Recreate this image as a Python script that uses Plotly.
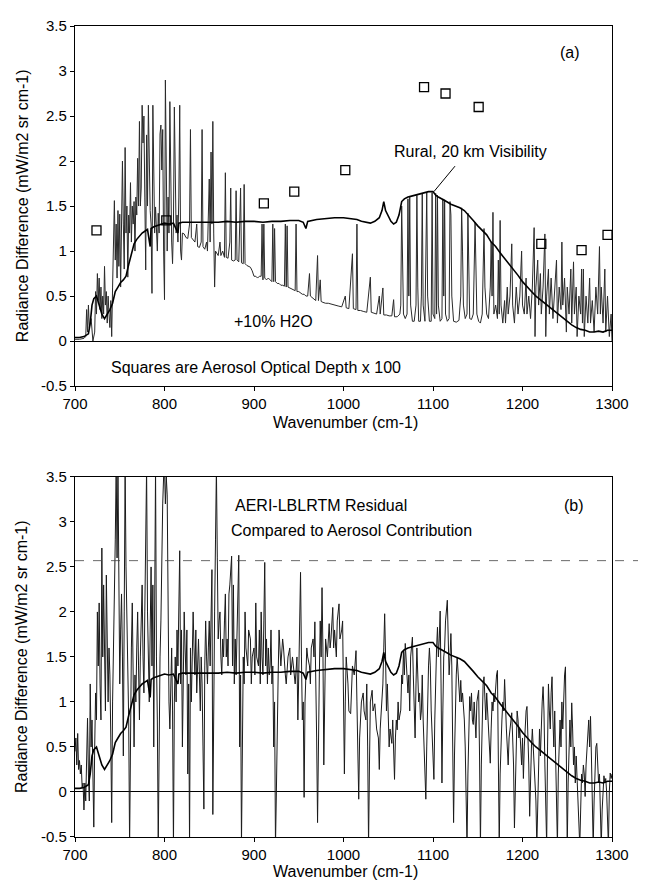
import plotly.graph_objects as go

# ---------------- data ----------------
# Aerosol contribution, Rural 20 km visibility (wavenumber, radiance)
AEROSOL = [
    (700,0.04),(705,0.04),(710,0.05),(715,0.08),(717,0.2),(719,0.4),(721,0.47),(724,0.5),
    (727,0.4),(730,0.3),(733,0.25),(736,0.3),(739,0.35),(742,0.42),(745,0.55),(748,0.6),
    (751,0.65),(754,0.68),(757,0.72),(760,0.85),(763,0.98),(766,1.08),(769,1.13),(772,1.17),
    (775,1.2),(778,1.22),(781,1.24),(784,1.05),(785,1.25),(788,1.27),(791,1.28),(794,1.29),
    (797,1.3),(800,1.31),(805,1.3),(810,1.31),(815,1.2),(816,1.31),(820,1.32),(830,1.32),
    (840,1.32),(850,1.32),(860,1.32),(870,1.33),(880,1.32),(890,1.33),(900,1.33),(910,1.32),
    (920,1.33),(930,1.33),(940,1.34),(950,1.34),(955,1.32),(958,1.25),(960,1.33),(970,1.35),
    (980,1.36),(990,1.37),(1000,1.37),(1010,1.36),(1015,1.35),(1020,1.33),(1025,1.32),
    (1030,1.31),(1035,1.33),(1040,1.37),(1043,1.45),(1045,1.55),(1047,1.45),(1050,1.38),
    (1053,1.33),(1056,1.3),(1059,1.32),(1062,1.4),(1065,1.55),(1068,1.58),(1072,1.6),
    (1076,1.61),(1080,1.62),(1085,1.63),(1090,1.65),(1095,1.66),(1100,1.66),(1103,1.62),
    (1106,1.6),(1110,1.58),(1115,1.55),(1120,1.52),(1125,1.5),(1130,1.48),(1135,1.45),
    (1140,1.4),(1145,1.34),(1150,1.28),(1155,1.23),(1160,1.18),(1165,1.1),(1170,1.05),
    (1175,0.98),(1180,0.92),(1185,0.86),(1190,0.8),(1195,0.73),(1200,0.66),(1205,0.6),
    (1210,0.55),(1215,0.5),(1220,0.46),(1225,0.42),(1230,0.38),(1235,0.33),(1240,0.29),
    (1245,0.25),(1250,0.21),(1255,0.18),(1260,0.15),(1265,0.13),(1270,0.12),(1275,0.1),
    (1280,0.1),(1285,0.11),(1290,0.1),(1295,0.12),(1300,0.12),
]

# +10% H2O radiance difference (panel a)
H2O = [
    (700,0.02),(705,0.02),(710,0.03),(712,0.05),(713,0.35),(714,0.1),(715,0.4),(716,0.15),
    (718,0.25),(719,0.05),(720,0.0),(722,0.1),(723,0.55),(724,0.3),(725,0.75),(726,0.45),
    (727,0.7),(728,0.35),(729,0.6),(730,0.25),(731,0.5),(732,0.3),(733,0.83),(734,0.4),
    (735,0.55),(736,0.2),(737,0.5),(738,0.3),(739,0.15),(740,0.45),(741,0.05),(742,0.6),
    (743,1.0),(744,1.56),(745,0.9),(746,1.3),(747,0.7),(748,1.45),(749,0.83),(750,1.41),
    (751,0.6),(752,1.1),(753,2.0),(754,1.3),(755,0.8),(756,2.15),(757,1.2),(758,1.5),
    (759,0.71),(760,1.4),(761,1.2),(762,1.76),(763,1.1),(764,1.5),(765,1.3),(766,1.55),
    (767,1.0),(768,1.6),(769,1.4),(770,2.03),(771,1.5),(772,2.44),(773,1.5),(774,1.7),
    (775,2.62),(776,2.2),(777,2.5),(778,1.6),(779,0.79),(780,2.29),(781,1.5),(782,2.62),
    (783,1.7),(784,1.45),(785,1.3),(786,0.53),(787,2.62),(788,1.6),(789,1.2),(790,1.49),
    (791,1.3),(792,1.0),(793,1.42),(794,1.2),(795,2.3),(796,2.4),(797,1.9),(798,2.35),
    (799,1.0),(800,0.46),(801,2.9),(802,1.5),(803,1.0),(804,1.6),(805,1.2),(806,2.66),
    (807,1.4),(808,1.1),(809,0.86),(810,1.3),(811,2.6),(812,1.5),(813,1.2),(814,1.4),
    (815,1.1),(816,1.6),(817,2.62),(818,1.0),(819,0.9),(820,1.2),(822,1.19),(824,1.15),
    (826,1.14),(828,1.3),(829,2.35),(830,1.15),(832,1.12),(834,1.1),(836,1.3),(837,1.05),
    (839,1.04),(841,1.1),(842,2.35),(843,1.05),(845,1.02),(847,1.1),(848,1.0),(850,1.8),
    (851,1.1),(852,2.1),(853,1.3),(854,2.44),(855,1.2),(856,0.6),(857,1.0),(858,0.98),
    (860,0.95),(862,1.1),(863,0.95),(865,1.0),(867,0.93),(868,1.87),(869,0.93),(871,0.92),
    (873,1.1),(874,1.7),(875,0.9),(877,0.89),(879,0.9),(880,1.67),(881,0.9),(883,0.88),
    (884,1.2),(885,1.7),(886,0.87),(888,0.86),(889,1.74),(890,0.86),(892,0.84),(894,0.83),
    (896,0.82),(898,0.78),(900,0.72),(902,0.72),(904,0.7),(906,0.72),(908,0.72),(909,1.3),
    (910,0.68),(911,1.3),(912,0.7),(914,0.68),(916,0.7),(918,0.68),(920,0.66),(921,1.3),
    (922,0.66),(923,1.25),(924,0.66),(926,0.64),(928,0.64),(930,0.62),(932,0.62),(934,0.61),
    (935,1.3),(936,0.6),(937,1.28),(938,0.6),(940,0.59),(942,0.58),(944,0.57),(946,0.56),
    (947,1.3),(948,0.55),(950,0.55),(952,0.53),(954,0.52),(956,0.52),(958,0.5),(960,0.5),
    (962,0.75),(963,0.5),(965,0.48),(967,0.47),(969,0.45),(971,0.95),(972,0.45),(974,0.68),
    (975,0.44),(977,0.43),(980,0.42),(983,0.42),(986,0.41),(990,0.4),(994,0.39),(998,0.38),
    (1002,0.5),(1003,0.37),(1006,0.36),(1010,0.97),(1011,0.36),(1014,0.35),(1015,1.3),
    (1016,0.34),(1019,0.34),(1022,0.33),(1026,0.32),(1030,0.71),(1031,0.32),(1034,0.31),
    (1037,0.3),(1040,0.5),(1041,0.3),(1044,0.59),(1045,0.29),(1048,0.29),(1051,0.28),
    (1054,0.28),(1056,0.46),(1057,0.27),(1060,0.27),(1063,0.3),(1064,0.4),(1065,1.5),
    (1066,0.8),(1067,0.3),(1069,0.25),(1071,0.3),(1072,1.58),(1073,0.5),(1074,1.6),
    (1075,0.4),(1077,0.22),(1079,0.22),(1081,0.4),(1082,1.62),(1083,0.6),(1084,0.22),
    (1086,0.22),(1087,0.5),(1088,1.64),(1089,0.4),(1091,0.22),(1092,1.0),(1093,1.65),
    (1094,0.5),(1096,0.22),(1098,0.22),(1099,1.65),(1100,0.3),(1102,0.25),(1103,1.64),
    (1104,0.3),(1105,1.62),(1106,0.4),(1108,0.22),(1110,0.25),(1111,1.58),(1112,0.5),
    (1113,1.57),(1114,0.3),(1116,0.22),(1118,0.25),(1119,1.55),(1120,1.4),(1121,0.5),
    (1123,0.22),(1126,0.21),(1129,0.23),(1131,0.5),(1132,1.48),(1133,1.0),(1134,0.4),
    (1136,0.25),(1138,0.3),(1139,1.42),(1140,0.5),(1141,0.25),(1143,0.24),(1145,0.3),
    (1147,1.32),(1148,0.6),(1149,0.3),(1151,0.22),(1153,0.2),(1155,0.3),(1157,1.25),
    (1158,0.6),(1160,0.3),(1162,0.25),(1164,0.6),(1165,1.1),(1166,0.5),(1167,1.43),
    (1168,0.3),(1170,0.4),(1172,0.25),(1173,0.9),(1174,0.3),(1175,1.34),(1176,0.4),
    (1178,0.2),(1180,0.45),(1181,0.2),(1183,0.6),(1184,0.3),(1186,0.5),(1188,1.08),
    (1189,0.4),(1191,0.2),(1193,0.6),(1195,0.3),(1197,0.5),(1199,1.0),(1200,0.4),
    (1202,0.3),(1204,0.7),(1205,0.3),(1207,0.5),(1209,0.25),(1211,0.6),(1213,1.26),
    (1214,0.05),(1215,0.6),(1217,0.9),(1218,0.4),(1220,0.75),(1221,0.3),(1223,0.6),
    (1225,1.19),(1226,0.05),(1227,0.5),(1229,0.8),(1230,0.3),(1232,0.7),(1234,0.25),
    (1236,0.55),(1238,0.9),(1239,0.2),(1241,0.6),(1243,0.35),(1244,1.1),(1245,0.4),
    (1247,0.7),(1249,0.1),(1250,0.6),(1252,0.3),(1254,0.8),(1255,0.2),(1257,0.88),
    (1258,0.3),(1260,0.6),(1261,0.05),(1263,0.5),(1265,0.3),(1266,0.8),(1267,0.2),
    (1268,0.8),(1269,0.05),(1271,0.5),(1273,0.2),(1275,0.7),(1276,0.2),(1278,0.45),
    (1280,0.1),(1282,0.6),(1284,0.3),(1286,1.05),(1287,0.3),(1288,0.6),(1290,0.2),
    (1292,0.8),(1293,0.1),(1295,0.5),(1297,0.05),(1299,0.3),(1300,0.0),
]

# Aerosol optical depth x 100 (squares)
AOD_WN = [724, 802, 911, 945, 1002, 1090, 1114, 1151, 1221, 1266, 1295]
AOD_X100 = [1.23, 1.34, 1.53, 1.66, 1.90, 2.82, 2.75, 2.60, 1.08, 1.01, 1.18]

# AERI - LBLRTM residual (panel b)
RESIDUAL = [
    (700,0.45),(701,0.6),(702,0.3),(703,0.65),(704,0.25),(705,0.35),(706,0.2),(707,0.3),
    (708,0.05),(709,0.1),(710,-0.2),(711,0.1),(712,-0.1),(713,0.3),(714,0.82),(715,0.2),
    (716,-0.1),(717,1.2),(718,0.5),(719,0.8),(720,0.1),(721,-0.39),(722,0.5),(723,1.1),
    (724,0.8),(725,2.0),(726,1.4),(727,2.1),(728,1.2),(729,0.8),(730,2.71),(731,1.5),
    (732,2.3),(733,1.2),(734,0.9),(735,2.41),(736,1.4),(737,1.0),(738,1.6),(739,1.3),
    (740,0.6),(741,-0.34),(742,1.0),(743,1.5),(744,2.0),(745,2.8),(746,3.6),(747,2.6),
    (748,3.6),(749,2.2),(750,1.2),(751,1.8),(752,2.2),(753,1.5),(754,0.4),(755,2.0),
    (756,3.6),(757,2.5),(758,2.0),(759,1.2),(760,0.8),(761,-0.6),(762,1.0),(763,1.6),
    (764,2.1),(765,1.3),(766,0.5),(767,1.3),(768,1.0),(769,1.6),(770,2.0),(771,1.4),
    (772,0.8),(773,1.5),(774,1.8),(775,2.3),(776,1.5),(777,1.1),(778,2.0),(779,2.6),
    (780,3.6),(781,2.0),(782,1.5),(783,1.0),(784,1.8),(785,2.5),(786,1.4),(787,2.3),
    (788,0.5),(789,2.8),(790,3.6),(791,1.5),(792,0.8),(793,-0.6),(794,1.0),(795,1.5),
    (796,1.9),(797,2.8),(798,3.2),(799,3.5),(800,3.6),(801,3.2),(802,3.5),(803,3.3),
    (804,1.5),(805,1.0),(806,0.7),(807,1.2),(808,1.6),(809,0.9),(810,-0.6),(811,1.0),
    (812,1.5),(813,1.0),(814,1.8),(815,1.4),(816,2.2),(817,2.68),(818,1.2),(819,1.8),
    (820,0.5),(821,1.4),(822,2.0),(823,1.6),(824,1.3),(825,1.8),(826,0.2),(827,1.2),
    (828,-0.6),(829,1.6),(830,1.0),(831,1.5),(832,2.0),(833,1.6),(834,1.3),(835,1.8),
    (836,1.1),(838,1.7),(839,1.2),(840,0.9),(841,1.5),(842,1.2),(843,0.5),(844,-0.19),
    (845,1.4),(846,1.9),(847,1.5),(848,1.2),(849,1.6),(850,1.9),(851,1.4),(852,2.2),
    (853,2.47),(854,-0.25),(855,1.5),(856,2.0),(857,2.8),(858,3.6),(859,2.6),(860,1.7),
    (861,1.9),(862,2.0),(863,1.5),(864,1.3),(865,1.7),(866,1.5),(867,1.9),(868,2.2),
    (869,1.5),(870,1.7),(871,1.4),(872,2.2),(873,2.3),(874,2.5),(875,2.62),(876,1.4),
    (877,2.3),(878,1.2),(879,1.7),(880,1.3),(881,1.9),(882,2.3),(883,2.63),(884,0.5),
    (885,1.3),(886,-0.6),(887,1.2),(888,1.5),(889,1.2),(890,2.0),(891,1.6),(893,1.4),
    (894,1.8),(896,1.7),(897,1.2),(898,1.5),(900,1.6),(901,1.3),(902,2.1),(903,1.5),
    (905,1.4),(906,1.8),(907,1.2),(908,2.0),(909,1.5),(910,1.3),(911,1.9),(912,2.55),
    (913,1.4),(914,1.7),(915,1.2),(916,1.6),(917,1.3),(918,1.4),(919,1.8),(920,1.2),
    (921,1.4),(922,0.5),(923,1.0),(924,-0.6),(925,0.0),(926,1.0),(927,1.3),(928,1.8),
    (929,1.5),(930,1.4),(932,1.7),(933,1.6),(935,1.3),(936,1.2),(938,1.5),(940,1.6),
    (941,1.3),(943,1.5),(944,1.4),(946,1.2),(948,1.5),(949,0.8),(950,1.3),(951,1.9),
    (952,2.44),(953,1.5),(954,0.8),(955,1.0),(956,-0.06),(957,1.0),(958,1.3),(959,1.6),
    (960,1.5),(962,1.4),(963,1.2),(964,1.6),(966,1.7),(967,1.5),(968,1.89),(969,1.4),
    (970,0.6),(971,-0.34),(972,1.0),(973,1.3),(974,1.9),(975,1.5),(976,2.27),(977,1.6),
    (978,0.3),(979,1.4),(980,1.7),(982,1.5),(984,1.87),(985,1.6),(986,1.7),(988,2.05),
    (989,1.6),(990,1.8),(992,1.5),(993,1.9),(995,2.09),(996,1.7),(998,1.8),(999,1.9),
    (1000,1.2),(1001,0.2),(1002,1.0),(1003,1.5),(1005,1.2),(1006,0.9),(1008,0.87),
    (1009,1.2),(1010,1.4),(1012,1.3),(1014,1.57),(1015,1.0),(1016,0.5),(1017,-0.08),
    (1018,0.6),(1020,1.0),(1022,1.1),(1023,0.9),(1025,0.8),(1026,1.2),(1027,0.5),
    (1028,-0.6),(1029,0.3),(1030,1.0),(1032,1.13),(1033,0.9),(1035,0.98),(1037,0.7),
    (1039,0.6),(1040,0.25),(1041,0.7),(1043,0.98),(1044,1.2),(1045,1.6),(1046,1.98),
    (1047,1.5),(1048,0.9),(1049,1.2),(1050,0.8),(1051,0.5),(1052,0.7),(1054,0.54),
    (1055,0.8),(1056,0.3),(1057,0.14),(1058,0.6),(1059,0.8),(1060,0.69),(1061,1.0),
    (1062,0.8),(1064,0.91),(1065,1.3),(1066,1.2),(1067,1.57),(1068,1.3),(1069,1.65),
    (1070,1.4),(1072,1.1),(1073,1.3),(1074,0.9),(1075,1.5),(1077,1.72),(1078,1.3),
    (1079,0.7),(1080,0.6),(1081,1.2),(1082,1.6),(1083,1.3),(1084,1.0),(1085,1.1),
    (1086,0.8),(1087,0.9),(1088,1.3),(1089,0.8),(1090,0.4),(1091,0.1),(1092,-0.08),
    (1093,0.5),(1094,1.2),(1095,1.4),(1096,1.6),(1097,1.4),(1098,0.9),(1099,0.6),
    (1100,0.3),(1101,0.14),(1102,0.8),(1103,1.3),(1104,1.6),(1105,1.83),(1106,1.5),
    (1107,1.7),(1108,2.01),(1109,1.2),(1110,0.1),(1111,0.9),(1112,1.5),(1113,1.6),
    (1114,1.9),(1116,2.13),(1117,1.6),(1118,1.3),(1119,1.5),(1120,1.76),(1121,1.4),
    (1122,0.6),(1123,-0.34),(1124,0.4),(1125,1.0),(1126,1.3),(1127,1.5),(1128,1.3),
    (1130,1.0),(1131,1.24),(1132,1.0),(1133,1.1),(1134,0.95),(1135,0.8),(1136,0.5),
    (1137,0.0),(1138,-0.6),(1139,0.2),(1140,0.8),(1141,1.06),(1142,0.9),(1143,1.1),
    (1144,0.8),(1145,0.75),(1146,1.0),(1147,0.8),(1148,0.6),(1149,1.0),(1150,1.1),
    (1151,1.13),(1152,0.4),(1153,-0.6),(1154,0.3),(1155,1.0),(1156,1.2),(1157,1.28),
    (1158,1.0),(1159,0.8),(1160,1.1),(1161,0.9),(1162,0.6),(1163,0.4),(1164,0.32),
    (1165,0.7),(1166,1.0),(1167,0.9),(1168,1.1),(1169,1.0),(1170,1.2),(1171,1.3),
    (1172,1.35),(1173,0.5),(1174,-0.6),(1175,0.2),(1176,0.7),(1177,0.8),(1178,1.0),
    (1179,0.9),(1180,1.25),(1181,0.8),(1182,0.7),(1183,0.5),(1184,0.3),(1185,0.6),
    (1186,0.7),(1187,0.8),(1188,0.88),(1189,0.6),(1190,0.3),(1191,-0.4),(1192,0.1),
    (1193,0.7),(1194,0.9),(1195,0.8),(1196,0.6),(1197,0.7),(1198,0.5),(1199,0.3),
    (1200,0.6),(1201,0.15),(1202,0.5),(1203,0.8),(1204,0.9),(1205,0.95),(1206,0.7),
    (1207,0.3),(1208,-0.27),(1209,0.2),(1210,0.5),(1211,0.7),(1212,0.5),(1213,0.4),
    (1214,0.2),(1215,-0.1),(1216,-0.6),(1217,-0.1),(1218,0.6),(1219,0.7),(1220,0.4),
    (1221,0.8),(1222,1.0),(1223,1.17),(1224,0.9),(1225,0.3),(1226,-0.2),(1227,-0.6),
    (1228,0.5),(1229,1.2),(1230,0.9),(1231,0.7),(1232,1.1),(1233,1.28),(1234,0.8),
    (1235,0.5),(1236,0.9),(1237,0.3),(1238,-0.3),(1239,-0.6),(1240,0.2),(1241,0.6),
    (1242,0.8),(1243,0.5),(1244,1.0),(1245,0.7),(1246,1.1),(1247,1.3),(1248,1.39),
    (1249,0.3),(1250,-0.6),(1251,0.1),(1252,0.6),(1253,0.8),(1254,0.5),(1255,0.99),
    (1256,0.7),(1257,0.3),(1258,0.5),(1259,0.1),(1260,0.4),(1261,0.2),(1262,0.0),
    (1263,-0.3),(1264,-0.6),(1265,-0.2),(1266,0.2),(1267,0.1),(1268,0.3),(1269,0.2),
    (1270,-0.05),(1271,0.3),(1272,0.5),(1273,0.7),(1274,0.8),(1275,0.5),(1276,0.84),
    (1277,0.4),(1278,0.0),(1279,-0.6),(1280,-0.1),(1281,0.3),(1282,0.5),(1283,0.54),
    (1284,0.3),(1285,0.1),(1286,0.2),(1287,-0.1),(1288,-0.6),(1289,-0.2),(1290,0.1),
    (1291,0.18),(1292,0.1),(1293,0.15),(1294,0.0),(1295,-0.3),(1296,-0.6),(1297,0.0),
    (1298,0.21),(1299,0.15),(1300,0.2),
]

X_TICKS = [700, 800, 900, 1000, 1100, 1200, 1300]
X_TICK_TEXT = ["700", "800", "900", "1000", "1100", "1200", "1300"]
Y_TICKS = [-0.5, 0, 0.5, 1, 1.5, 2, 2.5, 3, 3.5]
Y_TICK_TEXT = ["-0.5", "0", "0.5", "1", "1.5", "2", "2.5", "3", "3.5"]
REF_LEVEL_B = 2.57

aer_wn, aer_val = zip(*AEROSOL)
h2o_wn, h2o_val = zip(*H2O)
res_wn, res_val = zip(*RESIDUAL)

FONT = "Liberation Sans, Arial, Helvetica, sans-serif"

fig = go.Figure()
# panel (a)
fig.add_trace(go.Scatter(x=h2o_wn, y=h2o_val, mode="lines", xaxis="x", yaxis="y",
                         line=dict(color="#2a2a2a", width=1), showlegend=False))
fig.add_trace(go.Scatter(x=aer_wn, y=aer_val, mode="lines", xaxis="x", yaxis="y",
                         line=dict(color="black", width=1.6), showlegend=False))
fig.add_trace(go.Scatter(x=AOD_WN, y=AOD_X100, mode="markers", xaxis="x", yaxis="y",
                         marker=dict(symbol="square-open", size=9, color="black",
                                     line=dict(width=1.3, color="black")),
                         showlegend=False))
# panel (b)
fig.add_trace(go.Scatter(x=res_wn, y=res_val, mode="lines", xaxis="x2", yaxis="y2",
                         line=dict(color="#1a1a1a", width=1), showlegend=False))
fig.add_trace(go.Scatter(x=aer_wn, y=aer_val, mode="lines", xaxis="x2", yaxis="y2",
                         line=dict(color="black", width=1.6), showlegend=False))

axis_common = dict(showline=True, linecolor="black", linewidth=1.3, mirror=True,
                   ticks="outside", ticklen=4, tickwidth=1, tickcolor="black",
                   showgrid=False, tickfont=dict(family=FONT, size=15, color="black"))

# page body has an 8 px margin, so the figure is offset by 8 px in the window
fig.update_layout(
    width=630, height=874,
    margin=dict(l=67, r=25, t=9, b=45),
    paper_bgcolor="white", plot_bgcolor="white",
    xaxis=dict(domain=[0, 1], anchor="y", range=[700, 1300], tickvals=X_TICKS,
               ticktext=X_TICK_TEXT, zeroline=False, **axis_common),
    yaxis=dict(domain=[0.556, 1], anchor="x", range=[-0.5, 3.5], tickvals=Y_TICKS,
               ticktext=Y_TICK_TEXT, zeroline=True, zerolinecolor="black",
               zerolinewidth=1.2, **axis_common),
    xaxis2=dict(domain=[0, 1], anchor="y2", range=[700, 1300], tickvals=X_TICKS,
                ticktext=X_TICK_TEXT, zeroline=False, **axis_common),
    yaxis2=dict(domain=[0, 0.444], anchor="x2", range=[-0.5, 3.5], tickvals=Y_TICKS,
                ticktext=Y_TICK_TEXT, zeroline=True, zerolinecolor="black",
                zerolinewidth=1.2, **axis_common),
    font=dict(family=FONT, color="black"),
)

fig.add_shape(type="line", xref="paper", yref="y2", x0=0, x1=1.06,
              y0=REF_LEVEL_B, y1=REF_LEVEL_B, line=dict(color="#444444", width=0.8, dash="dash"))

tf = dict(family=FONT, size=16, color="black")
ann = [
    dict(x=1253, y=3.21, xref="x", yref="y", text="(a)"),
    dict(x=1142, y=2.11, xref="x", yref="y", text="Rural, 20 km Visibility"),
    dict(x=922, y=0.22, xref="x", yref="y", text="+10% H2O"),
    dict(x=902, y=-0.29, xref="x", yref="y", text="Squares are Aerosol Optical Depth x 100"),
    dict(x=975, y=3.18, xref="x2", yref="y2", text="AERI-LBLRTM Residual"),
    dict(x=1009, y=2.91, xref="x2", yref="y2", text="Compared to Aerosol Contribution"),
    dict(x=1258, y=3.18, xref="x2", yref="y2", text="(b)"),
    dict(x=-0.0985, y=0.778, xref="paper", yref="paper", textangle=-90,
         text="Radiance Difference (mW/m2 sr cm-1)"),
    dict(x=-0.0985, y=0.222, xref="paper", yref="paper", textangle=-90,
         text="Radiance Difference (mW/m2 sr cm-1)"),
    dict(x=0.504, y=0.5110, xref="paper", yref="paper", text="Wavenumber (cm-1)"),
    dict(x=0.504, y=-0.0430, xref="paper", yref="paper", text="Wavenumber (cm-1)"),
]
for a in ann:
    fig.add_annotation(showarrow=False, font=tf, xanchor="center", yanchor="middle", **a)

# leader line from label to the aerosol curve
fig.add_annotation(x=1101, y=1.66, ax=1126, ay=1.96, xref="x", yref="y", axref="x", ayref="y",
                   showarrow=True, arrowhead=0, arrowwidth=1, arrowcolor="black", text="")

fig.write_html("out.html")
